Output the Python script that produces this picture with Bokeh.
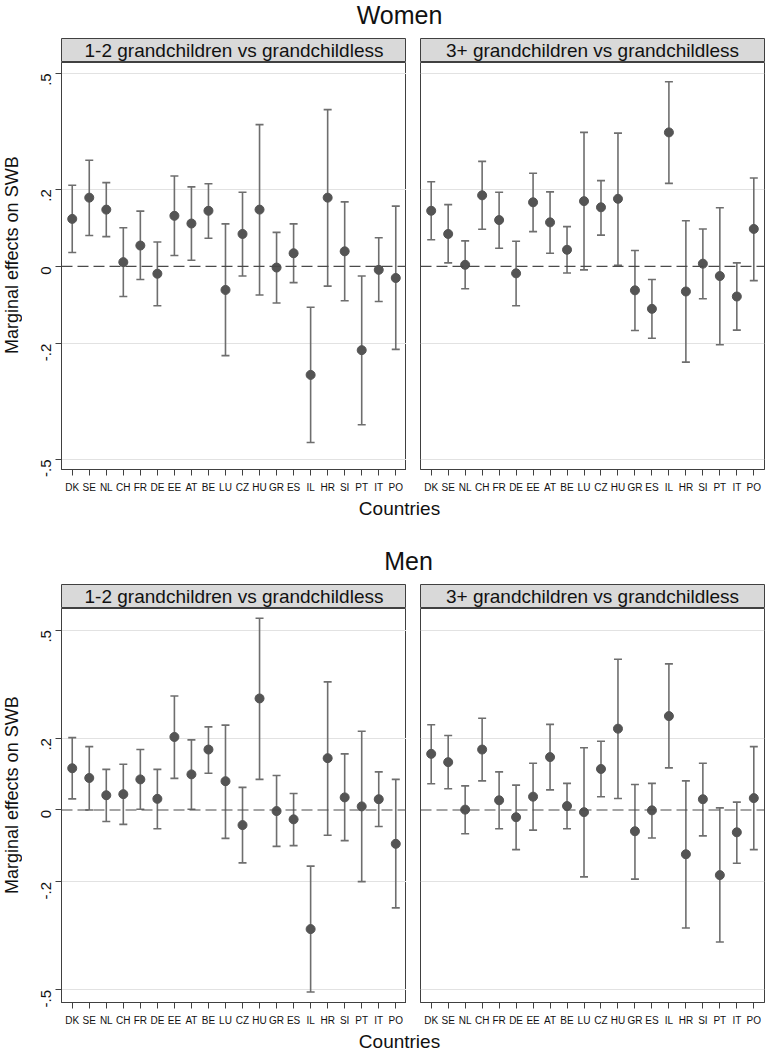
import math
from bokeh.plotting import figure
from bokeh.layouts import column, row
from bokeh.models import (Range1d, FixedTicker, Whisker, TeeHead, ColumnDataSource,
                          Span, Label)
from bokeh.embed import file_html
from bokeh.resources import INLINE

FONT = "Liberation Sans"

countries = ["DK", "SE", "NL", "CH", "FR", "DE", "EE", "AT", "BE", "LU",
             "CZ", "HU", "GR", "ES", "IL", "HR", "SI", "PT", "IT", "PO"]

panel_titles = ["1-2 grandchildren vs grandchildless",
                "3+ grandchildren vs grandchildless"]
section_titles = ["Women", "Men"]

y_ticks = [-0.5, -0.2, 0, 0.2, 0.5]
y_tick_labels = ["-.5", "-.2", "0", ".2", ".5"]

# Women, 1-2 grandchildren
w12_est = [0.123, 0.178, 0.147, 0.011, 0.054, -0.019, 0.131, 0.111, 0.144, -0.061,
           0.084, 0.147, -0.003, 0.034, -0.281, 0.178, 0.039, -0.217, -0.009, -0.030]
w12_hi = [0.210, 0.275, 0.217, 0.100, 0.143, 0.063, 0.234, 0.206, 0.214, 0.110,
          0.192, 0.367, 0.088, 0.110, -0.106, 0.406, 0.167, -0.025, 0.074, 0.156]
w12_lo = [0.036, 0.080, 0.077, -0.078, -0.034, -0.102, 0.028, 0.016, 0.073, -0.231,
          -0.025, -0.074, -0.095, -0.042, -0.456, -0.051, -0.089, -0.410, -0.091, -0.215]

# Women, 3+ grandchildren
w3_est = [0.144, 0.084, 0.004, 0.184, 0.120, -0.018, 0.166, 0.114, 0.043, 0.169,
          0.153, 0.175, -0.062, -0.110, 0.347, -0.065, 0.007, -0.025, -0.078, 0.097]
w3_hi = [0.219, 0.160, 0.066, 0.272, 0.192, 0.065, 0.241, 0.193, 0.103, 0.347,
         0.222, 0.345, 0.041, -0.034, 0.478, 0.118, 0.097, 0.152, 0.009, 0.229]
w3_lo = [0.069, 0.009, -0.058, 0.096, 0.047, -0.102, 0.090, 0.034, -0.017, -0.009,
         0.081, 0.003, -0.166, -0.186, 0.215, -0.248, -0.084, -0.203, -0.165, -0.037]

# Men, 1-2 grandchildren
m12_est = [0.116, 0.089, 0.041, 0.044, 0.085, 0.031, 0.203, 0.099, 0.168, 0.080,
           -0.042, 0.310, -0.003, -0.026, -0.331, 0.144, 0.035, 0.010, 0.030, -0.094]
m12_hi = [0.201, 0.176, 0.113, 0.127, 0.168, 0.113, 0.317, 0.195, 0.231, 0.236,
          0.063, 0.533, 0.096, 0.046, -0.156, 0.356, 0.156, 0.219, 0.106, 0.085]
m12_lo = [0.031, 0.000, -0.032, -0.040, 0.002, -0.052, 0.088, 0.002, 0.102, -0.079,
          -0.147, 0.085, -0.101, -0.099, -0.506, -0.070, -0.085, -0.199, -0.046, -0.272]

# Men, 3+ grandchildren
m3_est = [0.156, 0.133, 0.001, 0.168, 0.027, -0.020, 0.037, 0.147, 0.011, -0.006,
          0.114, 0.226, -0.059, -0.001, 0.261, -0.123, 0.030, -0.181, -0.062, 0.033]
m3_hi = [0.237, 0.207, 0.067, 0.255, 0.106, 0.069, 0.130, 0.238, 0.074, 0.173,
         0.191, 0.419, 0.071, 0.074, 0.406, 0.081, 0.130, 0.006, 0.022, 0.176]
m3_lo = [0.073, 0.059, -0.066, 0.081, -0.052, -0.110, -0.056, 0.056, -0.052, -0.186,
         0.037, 0.032, -0.192, -0.078, 0.117, -0.328, -0.072, -0.367, -0.148, -0.110]

TOTAL_W = 767
YLAB_W = 22
LEFT_BORDER, RIGHT_BORDER = 39, 14
LEFT_FRAME, RIGHT_FRAME = 345, 344
RIGHT_PAD = TOTAL_W - YLAB_W - LEFT_BORDER - LEFT_FRAME - RIGHT_BORDER - RIGHT_FRAME
LEFT_W = LEFT_BORDER + LEFT_FRAME
RIGHT_W = RIGHT_BORDER + RIGHT_FRAME + RIGHT_PAD
BOTTOM = 28

PT_COLOR = "#545454"
BAR_COLOR = "#6e6e6e"
FRAME_COLOR = "#404040"
GRID_COLOR = "#e2e2e2"
HEADER_FILL = "#d9d9d9"
TEXT_COLOR = "#111111"


def blank(width, height):
    p = figure(width=width, height=height, x_range=Range1d(0, width),
               y_range=Range1d(0, height), output_backend="svg",
               toolbar_location=None, x_axis_location=None, y_axis_location=None,
               min_border=0, outline_line_color=None)
    p.grid.visible = False
    return p


def text_fig(width, height, text, x, y, size, angle=0.0):
    p = blank(width, height)
    p.add_layout(Label(x=x, y=y, text=text, text_font=FONT, text_font_size=size,
                       text_color=TEXT_COLOR, text_align="center",
                       text_baseline="middle", angle=angle))
    return p


def header(width, border_left, border_right, text):
    p = figure(width=width, height=24, x_range=Range1d(0, 1), y_range=Range1d(0, 1),
               output_backend="svg", toolbar_location=None,
               x_axis_location=None, y_axis_location=None,
               min_border_left=border_left, min_border_right=border_right,
               min_border_top=0, min_border_bottom=0,
               background_fill_color=HEADER_FILL, border_fill_color="white",
               outline_line_color=FRAME_COLOR, outline_line_width=1)
    p.grid.visible = False
    p.add_layout(Label(x=0.5, y=0.5, text=text, text_font=FONT,
                       text_font_size="19px", text_color=TEXT_COLOR,
                       text_align="center", text_baseline="middle"))
    return p


def panel(est, lo, hi, y_range, frame_h, width, border_left, border_right, show_y):
    xs = list(range(1, len(countries) + 1))
    src = ColumnDataSource(dict(x=xs, est=est, lo=lo, hi=hi))
    p = figure(width=width, height=frame_h + BOTTOM,
               x_range=Range1d(0.37, 20.63), y_range=Range1d(*y_range),
               output_backend="svg", toolbar_location=None,
               min_border_left=border_left, min_border_right=border_right,
               min_border_top=0, min_border_bottom=BOTTOM,
               outline_line_color=FRAME_COLOR, outline_line_width=1,
               background_fill_color="white", border_fill_color="white")
    p.xgrid.visible = False
    p.ygrid.ticker = FixedTicker(ticks=[t for t in y_ticks if t != 0])
    p.ygrid.grid_line_color = GRID_COLOR
    p.ygrid.grid_line_width = 1.2

    p.add_layout(Span(location=0, dimension="width", line_color="#4a4a4a",
                      line_width=1.2, line_dash="11 5"))

    p.add_layout(Whisker(source=src, base="x", upper="hi", lower="lo",
                         line_color=BAR_COLOR, line_width=1.6,
                         upper_head=TeeHead(size=8, line_color=BAR_COLOR, line_width=1.6),
                         lower_head=TeeHead(size=8, line_color=BAR_COLOR, line_width=1.6)))
    p.scatter("x", "est", source=src, size=9, fill_color=PT_COLOR,
              line_color=PT_COLOR)

    xa = p.xaxis[0]
    xa.ticker = FixedTicker(ticks=xs)
    xa.major_label_overrides = {i: c for i, c in zip(xs, countries)}
    xa.major_tick_out = 6
    xa.major_tick_in = 0
    xa.minor_tick_line_color = None
    xa.axis_line_color = FRAME_COLOR
    xa.major_tick_line_color = FRAME_COLOR
    xa.major_label_text_font = FONT
    xa.major_label_text_font_size = "10px"
    xa.major_label_text_color = TEXT_COLOR
    xa.major_label_standoff = 6

    ya = p.yaxis[0]
    ya.ticker = FixedTicker(ticks=y_ticks)
    ya.major_label_overrides = {t: l for t, l in zip(y_ticks, y_tick_labels)}
    ya.major_tick_out = 6
    ya.major_tick_in = 0
    ya.minor_tick_line_color = None
    ya.axis_line_color = FRAME_COLOR
    ya.major_tick_line_color = FRAME_COLOR
    ya.major_label_text_font = FONT
    ya.major_label_text_font_size = "15px"
    ya.major_label_text_color = TEXT_COLOR
    ya.major_label_orientation = math.pi / 2
    ya.major_label_standoff = 9
    if not show_y:
        ya.visible = False
    return p


def section(title, title_h, title_x, title_y, frame_h, y_range, data,
            ylab_y, countries_h, countries_y):
    (e1, l1, h1), (e2, l2, h2) = data
    t = text_fig(TOTAL_W, title_h, title, title_x, title_y, "25px")
    hdr = row(header(YLAB_W + LEFT_W, YLAB_W + LEFT_BORDER, 0, panel_titles[0]),
              header(RIGHT_W, RIGHT_BORDER, RIGHT_PAD, panel_titles[1]))
    ylab = blank(YLAB_W, frame_h + BOTTOM)
    ylab.add_layout(Label(x=11.5, y=ylab_y,
                          text="Marginal effects on SWB", text_font=FONT,
                          text_font_size="18px", text_color=TEXT_COLOR,
                          text_align="center", text_baseline="middle",
                          angle=math.pi / 2))
    pl = panel(e1, l1, h1, y_range, frame_h, LEFT_W, LEFT_BORDER, 0, True)
    pr = panel(e2, l2, h2, y_range, frame_h, RIGHT_W, RIGHT_BORDER, RIGHT_PAD, False)
    c = text_fig(TOTAL_W, countries_h, "Countries", 399, countries_y, "19px")
    return column(t, hdr, row(ylab, pl, pr), c)


women = section("Women", 38, 399, 24, 407, (-0.526, 0.528),
                [(w12_est, w12_lo, w12_hi), (w3_est, w3_lo, w3_hi)],
                229, 43, 32)
men = section("Men", 44, 408, 23.5, 394, (-0.535, 0.560),
              [(m12_est, m12_lo, m12_hi), (m3_est, m3_lo, m3_hi)],
              222, 22, 11)

layout = column(women, men)
open("out.html", "w").write(file_html(layout, INLINE))
